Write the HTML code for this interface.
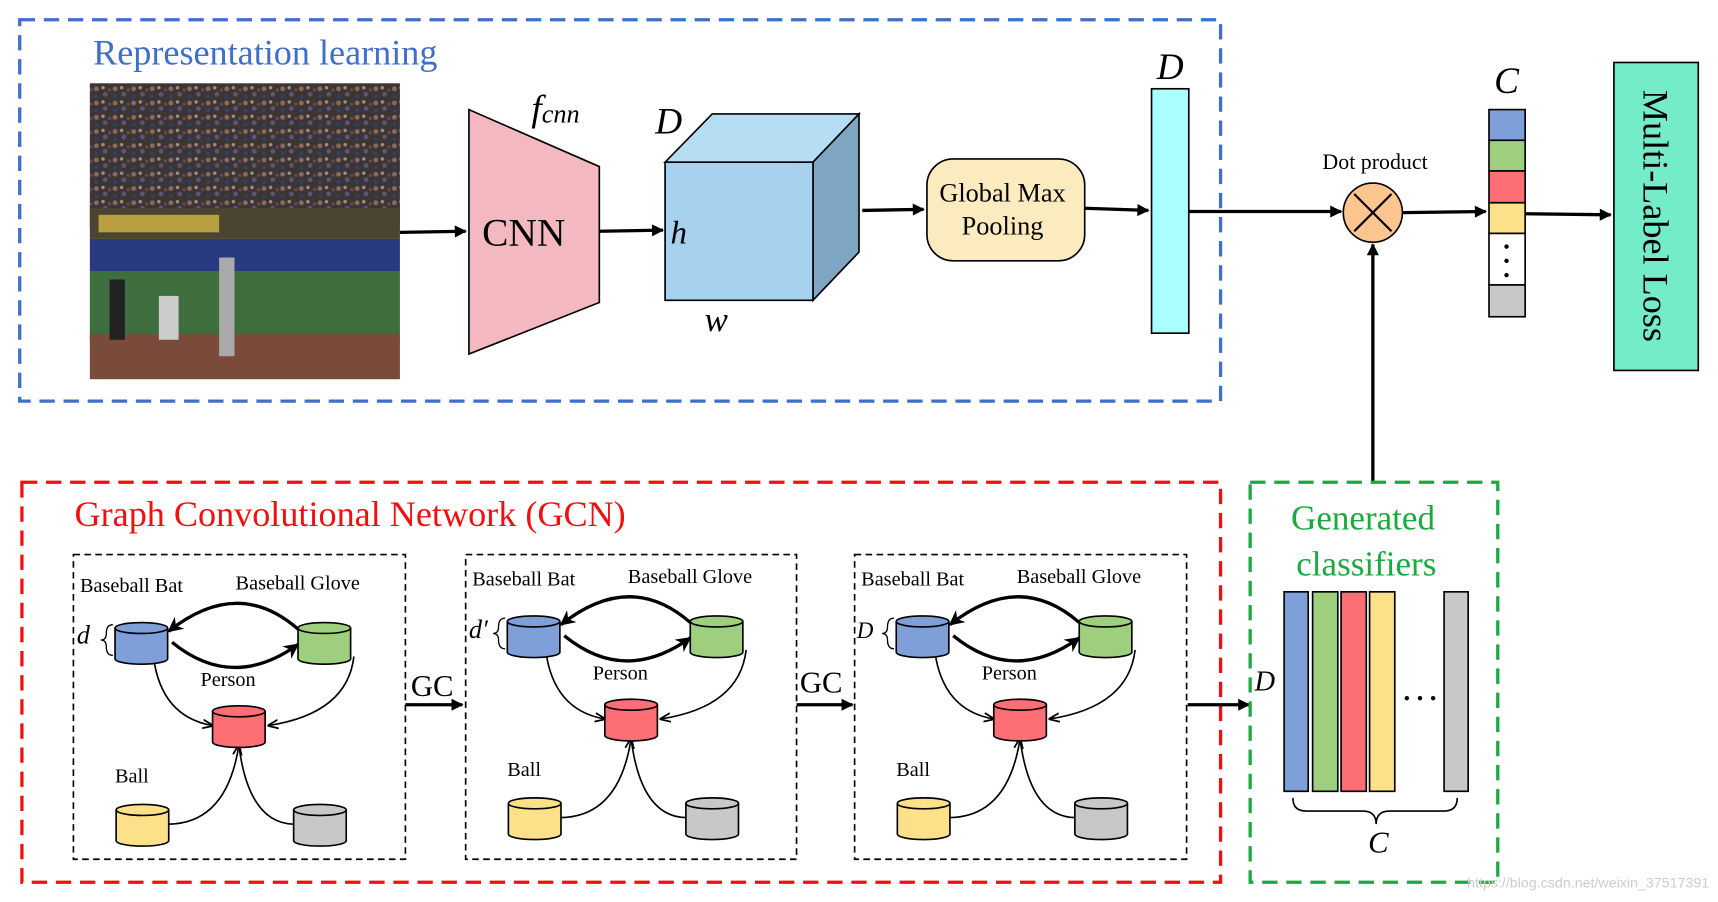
<!DOCTYPE html>
<html><head><meta charset="utf-8"><style>html,body{margin:0;padding:0;background:#fff}svg{display:block}</style></head>
<body>
<svg width="1718" height="902" viewBox="0 0 1568 823" preserveAspectRatio="none" xmlns="http://www.w3.org/2000/svg" font-family="'Liberation Serif', serif">
<defs>
<marker id="ah" viewBox="0 0 10 10" refX="9" refY="5" markerWidth="13" markerHeight="11" markerUnits="userSpaceOnUse" orient="auto"><path d="M0,0 L10,5 L0,10 z" fill="#000"/></marker>
<marker id="ab" viewBox="0 0 10 10" refX="9" refY="5" markerWidth="14" markerHeight="14" markerUnits="userSpaceOnUse" orient="auto"><path d="M0,0 L10,5 L0,10 L3,5 z" fill="#000"/></marker>
<marker id="as" viewBox="0 0 10 10" refX="9" refY="5" markerWidth="10" markerHeight="10" markerUnits="userSpaceOnUse" orient="auto"><path d="M0,1 L10,5 L0,9 M10,5" fill="none" stroke="#000" stroke-width="1.6"/></marker>
<pattern id="crowd" width="17" height="13" patternUnits="userSpaceOnUse">
<rect width="17" height="13" fill="#3d3434"/><circle cx="3" cy="3" r="2.2" fill="#8a6a5a"/><circle cx="11" cy="8" r="2.2" fill="#55587a"/><circle cx="9" cy="2" r="1.6" fill="#a09080"/><circle cx="3" cy="10" r="1.8" fill="#2a4470"/><circle cx="15" cy="4" r="1.5" fill="#6a4a4a"/>
</pattern>
<g id="panel">
<text x="6" y="34" font-size="18.5">Baseball Bat</text>
<text x="148" y="32" font-size="18.5">Baseball Glove</text>
<text x="116" y="120" font-size="18.5">Person</text>
<text x="38" y="208" font-size="18.5">Ball</text>
<path d="M205,68 Q150,20 87,70" fill="none" stroke="#000" stroke-width="3" marker-end="url(#ab)"/>
<path d="M90,80 Q145,125 205,82" fill="none" stroke="#000" stroke-width="3" marker-end="url(#ab)"/>
<path d="M73,93 Q80,148 127,156" fill="none" stroke="#000" stroke-width="1.5" marker-end="url(#as)"/>
<path d="M256,93 Q250,145 178,156" fill="none" stroke="#000" stroke-width="1.5" marker-end="url(#as)"/>
<path d="M87,246 Q140,245 151,174" fill="none" stroke="#000" stroke-width="1.5" marker-end="url(#as)"/>
<path d="M201,246 Q160,245 151,174" fill="none" stroke="#000" stroke-width="1.5"/>
<g stroke="#000" stroke-width="1.5">
<path d="M38,67 v28 a24,5 0 0 0 48,0 v-28" fill="#7f9fd9"/><ellipse cx="62" cy="67" rx="24" ry="5" fill="#7f9fd9"/>
<path d="M205,67 v28 a24,5 0 0 0 48,0 v-28" fill="#9ecf7e"/><ellipse cx="229" cy="67" rx="24" ry="5" fill="#9ecf7e"/>
<path d="M127,143 v28 a24,5 0 0 0 48,0 v-28" fill="#fd6e75"/><ellipse cx="151" cy="143" rx="24" ry="5" fill="#fd6e75"/>
<path d="M39,233 v28 a24,5 0 0 0 48,0 v-28" fill="#fde08a"/><ellipse cx="63" cy="233" rx="24" ry="5" fill="#fde08a"/>
<path d="M201,233 v28 a24,5 0 0 0 48,0 v-28" fill="#c8c8c8"/><ellipse cx="225" cy="233" rx="24" ry="5" fill="#c8c8c8"/>
</g>
<path d="M36,64 q-6,0 -6,8 q0,6 -5,6 q5,0 5,6 q0,8 6,8" fill="none" stroke="#000" stroke-width="1.2"/>
</g>
</defs>

<rect x="18" y="18" width="1096" height="348" fill="none" stroke="#3f6fc9" stroke-width="3" stroke-dasharray="14,8"/>
<text x="85" y="59" font-size="33" fill="#3f6fc9">Representation learning</text>

<rect x="82" y="76" width="283" height="130" fill="url(#crowd)"/>
<rect x="82" y="190" width="283" height="28" fill="#4a4430"/>
<rect x="90" y="196" width="110" height="16" fill="#b8a040"/>
<rect x="82" y="218" width="283" height="30" fill="#2a3a80"/>
<rect x="82" y="248" width="283" height="62" fill="#3e6e3e"/>
<rect x="82" y="305" width="283" height="41" fill="#7a4a3a"/>
<rect x="100" y="255" width="14" height="55" fill="#222"/>
<rect x="145" y="270" width="18" height="40" fill="#ccc"/>
<rect x="200" y="235" width="14" height="90" fill="#aaa"/>

<line x1="365" y1="212" x2="425" y2="211" stroke="#000" stroke-width="3" marker-end="url(#ah)"/>
<polygon points="428,100 547,152 547,276 428,323" fill="#f4b8c0" stroke="#000" stroke-width="1.5"/>
<text x="478" y="224" font-size="36" text-anchor="middle">CNN</text>
<text x="485" y="110" font-size="34" font-style="italic">f<tspan font-size="24" dy="2">cnn</tspan></text>
<line x1="547" y1="211" x2="605" y2="210" stroke="#000" stroke-width="3" marker-end="url(#ah)"/>

<polygon points="607,148 650,104 784,104 742,148" fill="#b5def4" stroke="#000" stroke-width="1.5"/>
<polygon points="742,148 784,104 784,230 742,274" fill="#7ea6c2" stroke="#000" stroke-width="1.5"/>
<rect x="607" y="148" width="135" height="126" fill="#a6d1ef" stroke="#000" stroke-width="1.5"/>
<text x="598" y="122" font-size="34" font-style="italic">D</text>
<text x="612" y="222" font-size="30" font-style="italic">h</text>
<text x="643" y="302" font-size="32" font-style="italic">w</text>

<line x1="787" y1="192" x2="843" y2="191" stroke="#000" stroke-width="3" marker-end="url(#ah)"/>
<rect x="846" y="145" width="144" height="93" rx="24" fill="#fdebc0" stroke="#000" stroke-width="1.5"/>
<text x="915" y="184" font-size="24" text-anchor="middle">Global Max</text>
<text x="915" y="214" font-size="24" text-anchor="middle">Pooling</text>
<line x1="990" y1="190" x2="1048" y2="192" stroke="#000" stroke-width="3" marker-end="url(#ah)"/>

<rect x="1051" y="81" width="34" height="223" fill="#aaffff" stroke="#000" stroke-width="1.5"/>
<text x="1068" y="72" font-size="34" font-style="italic" text-anchor="middle">D</text>
<line x1="1085" y1="193" x2="1224" y2="193" stroke="#000" stroke-width="3" marker-end="url(#ah)"/>

<circle cx="1253" cy="194" r="27" fill="#fdc58f" stroke="#000" stroke-width="1.5"/>
<path d="M1236,177 L1270,211 M1270,177 L1236,211" stroke="#000" stroke-width="2"/>
<text x="1255" y="154" font-size="20" text-anchor="middle">Dot product</text>
<line x1="1253" y1="440" x2="1253" y2="223" stroke="#000" stroke-width="3" marker-end="url(#ah)"/>
<line x1="1280" y1="194" x2="1356" y2="193" stroke="#000" stroke-width="3" marker-end="url(#ah)"/>

<g stroke="#000" stroke-width="1.5">
<rect x="1359" y="100" width="33" height="28" fill="#7f9fd9"/>
<rect x="1359" y="128" width="33" height="28" fill="#9ecf7e"/>
<rect x="1359" y="156" width="33" height="29" fill="#fd6e75"/>
<rect x="1359" y="185" width="33" height="28" fill="#fde08a"/>
<rect x="1359" y="213" width="33" height="47" fill="#fff"/>
<rect x="1359" y="260" width="33" height="29" fill="#c8c8c8"/>
</g>
<circle cx="1375" cy="225" r="2" fill="#000"/><circle cx="1375" cy="238" r="2" fill="#000"/><circle cx="1375" cy="251" r="2" fill="#000"/>
<text x="1375" y="85" font-size="34" font-style="italic" text-anchor="middle">C</text>
<line x1="1392" y1="195" x2="1470" y2="196" stroke="#000" stroke-width="3" marker-end="url(#ah)"/>
<rect x="1473" y="57" width="77" height="281" fill="#74ecc9" stroke="#000" stroke-width="1.5"/>
<text transform="translate(1500,197) rotate(90)" font-size="33" text-anchor="middle">Multi-Label Loss</text>

<rect x="20" y="440" width="1094" height="365" fill="none" stroke="#f01010" stroke-width="3" stroke-dasharray="14,8"/>
<text x="68" y="480" font-size="33" fill="#f01010">Graph Convolutional Network (GCN)</text>

<rect x="67" y="506" width="303" height="278" fill="none" stroke="#000" stroke-width="1.5" stroke-dasharray="6,4"/>
<rect x="425" y="506" width="302" height="278" fill="none" stroke="#000" stroke-width="1.5" stroke-dasharray="6,4"/>
<rect x="780" y="506" width="303" height="278" fill="none" stroke="#000" stroke-width="1.5" stroke-dasharray="6,4"/>
<use href="#panel" transform="translate(67,506)"/>
<use href="#panel" transform="translate(425,500)"/>
<use href="#panel" transform="translate(780,500)"/>
<text x="70" y="587" font-size="24" font-style="italic">d</text>
<text x="428" y="582" font-size="24" font-style="italic">d′</text>
<text x="782" y="582" font-size="21" font-style="italic">D</text>

<text x="375" y="635" font-size="28">GC</text>
<line x1="370" y1="643" x2="422" y2="643" stroke="#000" stroke-width="3" marker-end="url(#ah)"/>
<text x="730" y="632" font-size="28">GC</text>
<line x1="727" y1="643" x2="778" y2="643" stroke="#000" stroke-width="3" marker-end="url(#ah)"/>
<line x1="1084" y1="643" x2="1140" y2="643" stroke="#000" stroke-width="3" marker-end="url(#ah)"/>

<rect x="1141" y="440" width="226" height="365" fill="none" stroke="#1aaa3f" stroke-width="3" stroke-dasharray="14,8"/>
<text x="1244" y="483" font-size="32" fill="#1aaa3f" text-anchor="middle">Generated</text>
<text x="1247" y="525" font-size="32" fill="#1aaa3f" text-anchor="middle">classifiers</text>
<g stroke="#000" stroke-width="1.5">
<rect x="1172" y="540" width="22" height="182" fill="#7f9fd9"/>
<rect x="1198" y="540" width="23" height="182" fill="#9ecf7e"/>
<rect x="1224" y="540" width="23" height="182" fill="#fd6e75"/>
<rect x="1250" y="540" width="23" height="182" fill="#fde08a"/>
<rect x="1318" y="540" width="22" height="182" fill="#c8c8c8"/>
</g>
<circle cx="1284" cy="637" r="2" fill="#000"/><circle cx="1296" cy="637" r="2" fill="#000"/><circle cx="1308" cy="637" r="2" fill="#000"/>
<path d="M1180,728 q0,12 12,12 h52 q12,0 12,12 q0,-12 12,-12 h50 q12,0 12,-12" fill="none" stroke="#000" stroke-width="1.5"/>
<text x="1258" y="778" font-size="28" font-style="italic" text-anchor="middle">C</text>
<text x="1145" y="630" font-size="26" font-style="italic">D</text>
<text x="1560" y="810" font-size="13" fill="#ccc" text-anchor="end" font-family="'Liberation Sans', sans-serif">https://blog.csdn.net/weixin_37517391</text>
</svg>
</body></html>
